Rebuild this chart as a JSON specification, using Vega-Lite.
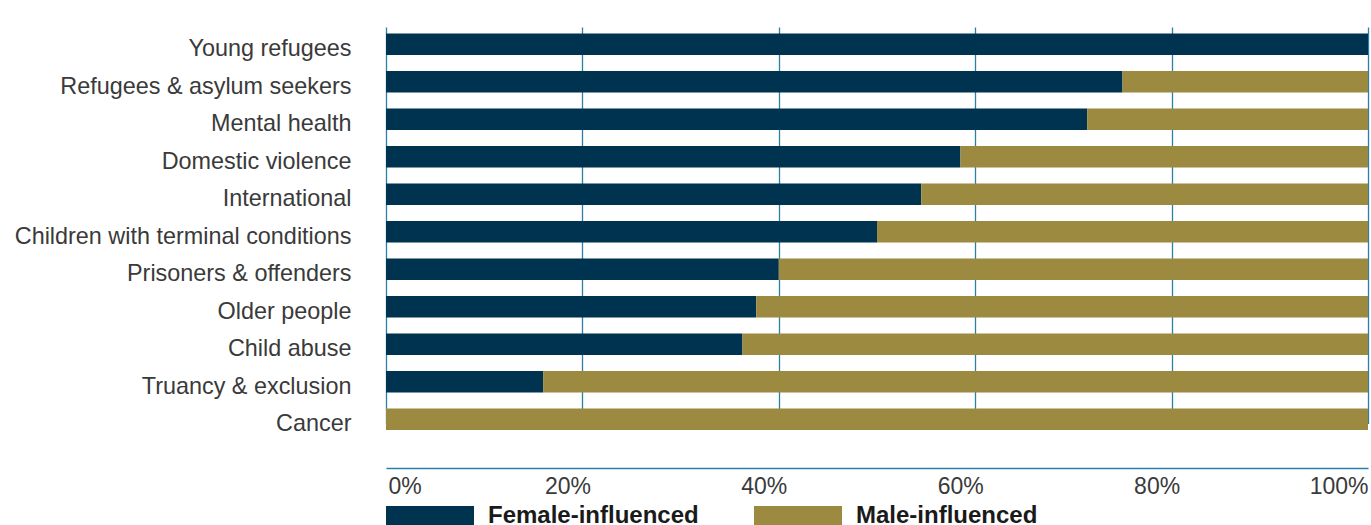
{
  "$schema": "https://vega.github.io/schema/vega-lite/v6.json",
  "width": 982,
  "height": 429,
  "autosize": {"type": "none"},
  "padding": {"left": 386, "top": 14, "right": 3, "bottom": 82},
  "background": "white",
  "config": {
    "view": {"stroke": null},
    "font": "Liberation Sans"
  },
  "data": {
    "values": [
      {"cause": "Young refugees", "group": "Female-influenced", "ord": 1, "pct": 100},
      {"cause": "Young refugees", "group": "Male-influenced", "ord": 2, "pct": 0},
      {"cause": "Refugees & asylum seekers", "group": "Female-influenced", "ord": 1, "pct": 75},
      {"cause": "Refugees & asylum seekers", "group": "Male-influenced", "ord": 2, "pct": 25},
      {"cause": "Mental health", "group": "Female-influenced", "ord": 1, "pct": 71.4},
      {"cause": "Mental health", "group": "Male-influenced", "ord": 2, "pct": 28.6},
      {"cause": "Domestic violence", "group": "Female-influenced", "ord": 1, "pct": 58.5},
      {"cause": "Domestic violence", "group": "Male-influenced", "ord": 2, "pct": 41.5},
      {"cause": "International", "group": "Female-influenced", "ord": 1, "pct": 54.5},
      {"cause": "International", "group": "Male-influenced", "ord": 2, "pct": 45.5},
      {"cause": "Children with terminal conditions", "group": "Female-influenced", "ord": 1, "pct": 50},
      {"cause": "Children with terminal conditions", "group": "Male-influenced", "ord": 2, "pct": 50},
      {"cause": "Prisoners & offenders", "group": "Female-influenced", "ord": 1, "pct": 40},
      {"cause": "Prisoners & offenders", "group": "Male-influenced", "ord": 2, "pct": 60},
      {"cause": "Older people", "group": "Female-influenced", "ord": 1, "pct": 37.7},
      {"cause": "Older people", "group": "Male-influenced", "ord": 2, "pct": 62.3},
      {"cause": "Child abuse", "group": "Female-influenced", "ord": 1, "pct": 36.3},
      {"cause": "Child abuse", "group": "Male-influenced", "ord": 2, "pct": 63.7},
      {"cause": "Truancy & exclusion", "group": "Female-influenced", "ord": 1, "pct": 16},
      {"cause": "Truancy & exclusion", "group": "Male-influenced", "ord": 2, "pct": 84},
      {"cause": "Cancer", "group": "Female-influenced", "ord": 1, "pct": 0},
      {"cause": "Cancer", "group": "Male-influenced", "ord": 2, "pct": 100}
    ]
  },
  "mark": {"type": "bar"},
  "encoding": {
    "y": {
      "field": "cause",
      "type": "nominal",
      "sort": ["Young refugees", "Refugees & asylum seekers", "Mental health", "Domestic violence", "International", "Children with terminal conditions", "Prisoners & offenders", "Older people", "Child abuse", "Truancy & exclusion", "Cancer"],
      "scale": {"range": [19.5, 416], "paddingInner": 0.427, "paddingOuter": 0},
      "axis": {
        "title": null,
        "domain": false,
        "ticks": false,
        "grid": false,
        "labelPadding": 35,
        "labelOffset": 5,
        "labelFontSize": 23.4,
        "labelColor": "#3a3a3a",
        "labelLimit": 400
      }
    },
    "x": {
      "field": "pct",
      "type": "quantitative",
      "stack": "zero",
      "scale": {"domain": [0, 100], "nice": false},
      "axis": {
        "title": null,
        "values": [0, 20, 40, 60, 80, 100],
        "labelExpr": "datum.value + '%'",
        "grid": true,
        "gridColor": "#2a80a8",
        "gridWidth": 1.3,
        "domain": true,
        "domainColor": "#2a80a8",
        "domainWidth": 1.5,
        "ticks": false,
        "tickSize": 0,
        "offset": 25,
        "labelPadding": 25,
        "labelBaseline": "alphabetic",
        "labelFontSize": 23,
        "labelColor": "#3a3a3a",
        "labelFlush": true,
        "labelOffset": {"condition": [{"test": "datum.value == 0", "value": 2}, {"test": "datum.value == 100", "value": 0}], "value": -15}
      }
    },
    "order": {"field": "ord", "type": "quantitative"},
    "color": {
      "field": "group",
      "type": "nominal",
      "scale": {"domain": ["Female-influenced", "Male-influenced"], "range": ["#00334f", "#9c8a40"]},
      "legend": {
        "title": null,
        "orient": "none",
        "direction": "horizontal",
        "legendX": 0,
        "legendY": 458,
        "padding": 0,
        "symbolType": "M-1,-0.227H1V0.227H-1Z",
        "symbolSize": 7744,
        "symbolStrokeWidth": 0,
        "symbolOpacity": 1,
        "labelOffset": 14,
        "labelFontSize": 24,
        "labelFontWeight": "bold",
        "labelColor": "#1a1a1a",
        "labelLimit": 400,
        "columnPadding": 55
      }
    }
  }
}
